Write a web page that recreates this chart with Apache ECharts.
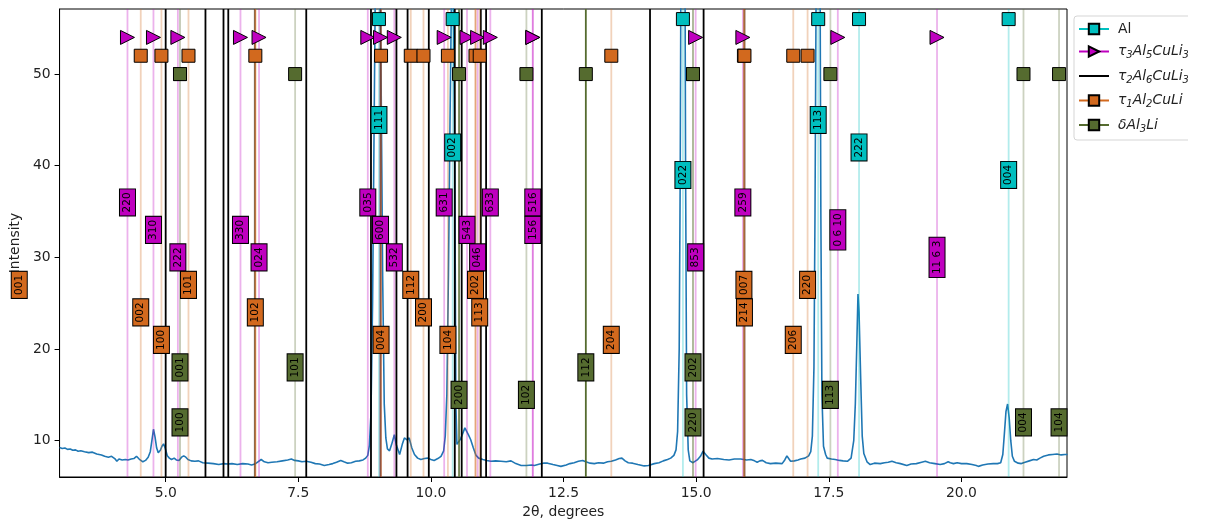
<!DOCTYPE html>
<html>
<head>
<meta charset="utf-8">
<script src="https://cdn.jsdelivr.net/npm/echarts@6/dist/echarts.min.js"></script>
<style>
  html, body { margin: 0; padding: 0; background: #fff; }
  #chart { width: 1207px; height: 525px; }
</style>
</head>
<body>
<div id="chart"></div>
<script>
// Measured pattern: [2θ (deg), intensity]
const pattern = [
  [3.00,9.25],[3.05,9.15],[3.10,9.2],[3.15,9.05],[3.20,9.1],[3.25,8.95],[3.30,9.0],[3.35,8.85],[3.40,8.9],[3.47,8.8],
  [3.55,8.7],[3.62,8.75],[3.70,8.55],[3.79,8.45],[3.85,8.3],[3.92,8.2],[3.98,8.3],[4.04,8.05],[4.08,7.75],[4.12,8.0],
  [4.18,7.9],[4.24,7.95],[4.29,7.9],[4.35,8.0],[4.40,8.05],[4.45,8.3],[4.50,8.0],[4.57,7.7],[4.62,7.85],[4.67,8.2],
  [4.71,8.8],[4.74,10.0],[4.77,11.25],[4.80,10.4],[4.83,9.2],[4.86,8.7],[4.90,8.95],[4.93,9.4],[4.96,9.65],[4.99,9.2],
  [5.03,8.35],[5.07,8.1],[5.11,7.95],[5.16,8.1],[5.20,7.9],[5.25,7.85],[5.30,8.2],[5.34,8.35],[5.38,8.2],[5.42,7.95],
  [5.48,7.8],[5.55,7.75],[5.62,7.8],[5.70,7.6],[5.80,7.55],[5.90,7.5],[6.00,7.4],[6.10,7.5],[6.17,7.45],[6.25,7.5],
  [6.35,7.4],[6.45,7.5],[6.55,7.45],[6.62,7.35],[6.68,7.45],[6.74,7.7],[6.80,7.95],[6.86,7.7],[6.93,7.6],[7.00,7.65],
  [7.10,7.7],[7.20,7.8],[7.30,7.9],[7.37,8.0],[7.43,7.85],[7.50,7.8],[7.57,7.7],[7.65,7.75],[7.74,7.65],[7.82,7.5],
  [7.90,7.45],[7.99,7.3],[8.08,7.4],[8.15,7.5],[8.22,7.65],[8.30,7.85],[8.36,7.7],[8.43,7.55],[8.50,7.6],[8.58,7.75],
  [8.65,7.8],[8.72,7.9],[8.77,8.1],[8.81,8.4],[8.84,9.5],[8.87,13],[8.90,25],[8.93,45],[8.96,65],[9.00,75],
  [9.03,70],[9.06,50],[9.09,28],[9.12,14],[9.15,10.3],[9.18,9.1],[9.22,8.9],[9.26,9.6],[9.31,10.65],[9.35,9.5],
  [9.41,8.5],[9.46,9.6],[9.50,10.3],[9.55,10.1],[9.59,10.3],[9.64,9.2],[9.69,8.5],[9.75,8.1],[9.81,7.95],[9.88,8.05],
  [9.94,8.1],[10.00,7.95],[10.06,7.85],[10.13,8.05],[10.19,8.3],[10.24,8.9],[10.27,10.5],[10.30,15],[10.33,28],[10.36,45],
  [10.39,60],[10.42,62],[10.45,40],[10.47,14],[10.49,9.6],[10.52,9.5],[10.56,10.2],[10.60,10.8],[10.64,11.4],[10.67,11.3],
  [10.71,10.6],[10.75,10.1],[10.80,9.2],[10.85,8.4],[10.90,8.1],[10.98,7.95],[11.05,7.85],[11.13,7.75],[11.22,7.8],[11.32,7.75],
  [11.42,7.7],[11.51,7.8],[11.60,7.5],[11.70,7.3],[11.80,7.3],[11.90,7.35],[11.95,7.3],[12.05,7.45],[12.12,7.55],[12.20,7.55],
  [12.30,7.4],[12.38,7.3],[12.45,7.2],[12.55,7.35],[12.62,7.5],[12.70,7.6],[12.78,7.75],[12.86,7.85],[12.92,7.7],[13.00,7.55],
  [13.08,7.5],[13.16,7.6],[13.25,7.55],[13.33,7.7],[13.40,7.75],[13.48,7.9],[13.55,8.05],[13.60,8.1],[13.66,7.8],[13.72,7.6],
  [13.80,7.55],[13.90,7.4],[14.02,7.25],[14.10,7.3],[14.21,7.5],[14.30,7.6],[14.38,7.8],[14.46,7.95],[14.52,8.1],[14.58,8.4],
  [14.62,9.0],[14.65,11],[14.68,20],[14.70,40],[14.72,75],[14.75,110],[14.78,80],[14.80,40],[14.82,15],[14.85,9.0],
  [14.88,7.8],[14.94,7.6],[15.02,7.9],[15.08,8.3],[15.13,8.85],[15.18,8.5],[15.24,8.1],[15.30,8.0],[15.40,8.05],[15.52,7.95],
  [15.62,7.9],[15.72,8.0],[15.84,8.0],[15.95,7.9],[16.03,7.95],[16.10,7.8],[16.15,7.65],[16.20,7.8],[16.25,7.85],[16.32,7.6],
  [16.40,7.5],[16.50,7.55],[16.62,7.5],[16.67,7.9],[16.71,8.35],[16.75,8.0],[16.78,7.75],[16.85,7.8],[16.92,7.9],[16.97,8.0],
  [17.05,8.1],[17.12,8.35],[17.16,8.8],[17.19,10.5],[17.22,18],[17.24,35],[17.27,70],[17.30,100],[17.33,70],[17.35,35],
  [17.37,15],[17.40,9.4],[17.44,8.5],[17.47,8.1],[17.55,8.0],[17.62,7.95],[17.70,7.85],[17.77,7.8],[17.85,7.75],[17.92,8.1],
  [17.97,10.0],[18.00,14],[18.03,21],[18.05,26],[18.07,24],[18.10,17],[18.13,10.5],[18.16,8.6],[18.22,7.7],[18.28,7.4],
  [18.36,7.55],[18.47,7.5],[18.55,7.6],[18.62,7.65],[18.69,7.75],[18.77,7.6],[18.85,7.5],[18.97,7.3],[19.05,7.45],[19.15,7.5],
  [19.25,7.65],[19.32,7.75],[19.40,7.6],[19.50,7.5],[19.60,7.4],[19.68,7.5],[19.75,7.7],[19.79,7.6],[19.85,7.5],[19.92,7.6],
  [20.00,7.5],[20.10,7.5],[20.20,7.4],[20.28,7.3],[20.32,7.2],[20.40,7.35],[20.50,7.45],[20.60,7.5],[20.68,7.5],[20.74,7.6],
  [20.78,8.5],[20.81,10.8],[20.84,13.2],[20.87,14.0],[20.90,12.5],[20.93,10],[20.96,8.3],[21.00,7.75],[21.07,7.55],[21.13,7.5],
  [21.20,7.65],[21.28,7.8],[21.36,7.95],[21.42,7.9],[21.48,8.1],[21.55,8.3],[21.64,8.45],[21.72,8.5],[21.80,8.55],[21.88,8.45],
  [21.95,8.5],[22.00,8.5]
];

// Reference reflections: 2θ position, Miller indices, label height, relative line strength
const alPos      = [9.02, 10.41, 14.75, 17.30, 18.07, 20.89];
const alHkl      = ['111', '002', '022', '113', '222', '004'];
const alLabelY   = [45, 42, 39, 45, 42, 39];
const alStrength = [0.3, 0.3, 0.3, 0.3, 0.3, 0.3];

const t3Pos      = [4.28, 4.77, 5.23, 6.41, 6.76, 8.81, 9.05, 9.31, 10.25, 10.68, 10.88, 11.12, 11.92, 11.92, 14.99, 15.88, 17.67, 19.54];
const t3Hkl      = ['220', '310', '222', '330', '024', '035', '600', '532', '631', '543', '046', '633', '516', '156', '853', '259', '0 6 10', '11 6 3'];
const t3LabelY   = [36, 33, 30, 33, 30, 36, 33, 30, 36, 33, 30, 36, 36, 33, 30, 36, 33, 30];
const t3Strength = [0.3, 0.3, 0.3, 0.3, 0.3, 0.3, 0.3, 0.3, 0.3, 0.3, 0.3, 0.3, 0.3, 0.3, 0.3, 0.3, 0.3, 0.3];

const t2Pos      = [5.00, 5.75, 6.09, 6.18, 6.68, 7.65, 8.87, 9.05, 9.35, 9.56, 9.96, 10.45, 10.58, 10.94, 11.04, 12.09, 14.13, 15.14, 15.91];
const t2Strength = [1, 1, 1, 1, 0.6, 1, 1, 0.6, 1, 1, 1, 1, 1, 1, 1, 1, 1, 1, 0.6];

const t1Pos      = [2.24, 4.53, 4.92, 5.43, 6.69, 9.06, 9.62, 9.86, 10.32, 10.84, 10.92, 13.40, 15.90, 15.91, 16.83, 17.10];
const t1Hkl      = ['001', '002', '100', '101', '102', '004', '112', '200', '104', '202', '113', '204', '007', '214', '206', '220'];
const t1LabelY   = [27, 24, 21, 27, 24, 21, 27, 24, 21, 27, 24, 21, 27, 24, 21, 27];
const t1Strength = [0.3, 0.3, 0.3, 0.3, 0.7, 0.5, 0.3, 0.3, 0.3, 0.6, 0.3, 0.3, 0.4, 0.4, 0.3, 0.3];

const dPos       = [5.27, 5.27, 7.44, 10.53, 11.80, 12.92, 14.94, 14.94, 17.53, 21.17, 21.84];
const dHkl       = ['001', '100', '101', '200', '102', '112', '202', '220', '113', '004', '104'];
const dLabelY    = [18, 12, 18, 15, 15, 18, 18, 12, 15, 12, 12];
const dStrength  = [0.2, 0.2, 0.3, 0.85, 0.3, 1.0, 0.3, 0.3, 0.3, 0.3, 0.3];

const xTicks = [5, 7.5, 10, 12.5, 15, 17.5, 20];
const yTicks = [10, 20, 30, 40, 50];

const X_MIN = 3, X_MAX = 21.99, Y_MIN = 6.04, Y_MAX = 57.1;
const FONT = 'DejaVu Sans';

const phases = [
  { name: 'Al',          color: '#00bfbf', symbol: 'rect', row: 56, pos: alPos, hkl: alHkl, labelY: alLabelY, strength: alStrength },
  { name: 'τ₃Al₅CuLi₃', color: '#bf00bf', symbol: 'path://M0,0L10,5L0,10Z', row: 54, pos: t3Pos, hkl: t3Hkl, labelY: t3LabelY, strength: t3Strength },
  { name: 'τ₂Al₆CuLi₃', color: '#000000', symbol: 'none', row: null, pos: t2Pos, hkl: null, labelY: null, strength: t2Strength },
  { name: 'τ₁Al₂CuLi',  color: '#d2691e', symbol: 'rect', row: 52, pos: t1Pos, hkl: t1Hkl, labelY: t1LabelY, strength: t1Strength },
  { name: 'δAl₃Li',      color: '#556b2f', symbol: 'rect', row: 50, pos: dPos, hkl: dHkl, labelY: dLabelY, strength: dStrength }
];

// vertical reflection lines drawn across the full plot height
function lineSeries(ph, width) {
  return {
    type: 'custom',
    coordinateSystem: 'cartesian2d',
    clip: true,
    silent: true,
    z: 3,
    encode: { x: 0, y: 1 },
    data: ph.pos.map((p, i) => [p, Y_MIN, ph.strength[i]]),
    renderItem: function (params, api) {
      const x = api.value(0);
      const a = api.coord([x, Y_MAX]);
      const b = api.coord([x, Y_MIN]);
      return {
        type: 'line',
        shape: { x1: a[0], y1: a[1], x2: b[0], y2: b[1] },
        style: { stroke: ph.color, lineWidth: width, opacity: api.value(2) }
      };
    }
  };
}

function markerSeries(ph) {
  const tri = ph.symbol.indexOf('path') === 0;
  return {
    type: 'scatter',
    silent: true,
    z: 5,
    clip: true,
    symbol: ph.symbol,
    symbolSize: tri ? [14, 14] : 13,
    itemStyle: { color: ph.color, borderColor: '#000', borderWidth: 1, opacity: 1 },
    data: ph.pos.map(p => [p, ph.row])
  };
}

// rotated hkl tags
function labelSeries(ph) {
  return {
    type: 'scatter',
    silent: true,
    z: 8,
    clip: false,
    symbolSize: 1,
    itemStyle: { color: 'rgba(0,0,0,0)', opacity: 1 },
    data: ph.pos.map((p, i) => [p, ph.labelY[i], ph.hkl[i]]),
    label: {
      show: true,
      opacity: 1,
      position: 'inside',
      rotate: 90,
      formatter: d => d.value[2],
      color: '#000',
      fontFamily: FONT,
      fontSize: 10.5,
      lineHeight: 11,
      backgroundColor: ph.color,
      borderColor: '#000',
      borderWidth: 1,
      padding: [2, 3, 2, 3]
    }
  };
}

// legend name -> rich text with italic formula and lowered subscripts
function legendText(name) {
  if (name === 'Al') return '{r|Al}';
  return name.replace(/([₀-₉]+)|([^₀-₉]+)/g, (m, sub, main) => {
    if (sub) {
      const digits = Array.from(sub).map(c => String.fromCharCode(c.charCodeAt(0) - 0x2080 + 48)).join('');
      return '{s|' + digits + '}';
    }
    return '{i|' + main + '}';
  });
}

const series = [];
series.push({
  type: 'line',
  silent: true,
  z: 2,
  data: pattern,
  showSymbol: false,
  symbol: 'none',
  clip: true,
  lineStyle: { color: '#1f77b4', width: 1.6 }
});
phases.forEach(ph => {
  const isTau2 = ph.symbol === 'none';
  series.push(lineSeries(ph, 1.8));
  if (!isTau2) {
    series.push(markerSeries(ph));
    series.push(labelSeries(ph));
  }
  // legend entry (line with marker)
  series.push({
    type: 'line',
    name: ph.name,
    data: [],
    symbol: isTau2 ? 'rect' : ph.symbol,
    symbolSize: 13,
    itemStyle: isTau2
      ? { color: 'rgba(0,0,0,0)', borderColor: 'rgba(0,0,0,0)', borderWidth: 0 }
      : { color: ph.color, borderColor: '#000', borderWidth: 1 },
    lineStyle: { color: ph.color, width: isTau2 ? 2 : 1.5 }
  });
});

const chart = echarts.init(document.getElementById('chart'), null, { renderer: 'canvas' });
chart.setOption({
  animation: false,
  backgroundColor: '#ffffff',
  grid: {
    left: 58, top: 9, right: 140, bottom: 48,
    show: true, borderColor: '#000', borderWidth: 1, backgroundColor: 'transparent'
  },
  xAxis: {
    type: 'value',
    min: X_MIN, max: X_MAX,
    name: '2θ, degrees',
    nameLocation: 'middle',
    nameGap: 28,
    nameTextStyle: { fontFamily: FONT, fontSize: 13.9, color: '#222' },
    axisLine: { show: true, onZero: false, lineStyle: { color: '#000', width: 1 } },
    axisTick: { show: true, length: 5, customValues: xTicks, lineStyle: { color: '#000' } },
    axisLabel: {
      customValues: xTicks, margin: 9,
      formatter: v => v.toFixed(1),
      fontFamily: FONT, fontSize: 13.9, color: '#222'
    },
    splitLine: { show: false }
  },
  yAxis: {
    type: 'value',
    min: Y_MIN, max: Y_MAX,
    name: 'Intensity',
    nameLocation: 'middle',
    nameGap: 28,
    nameTextStyle: { fontFamily: FONT, fontSize: 13.9, color: '#222' },
    axisLine: { show: true, onZero: false, lineStyle: { color: '#000', width: 1 } },
    axisTick: { show: true, length: 5, customValues: yTicks, lineStyle: { color: '#000' } },
    axisLabel: {
      customValues: yTicks, margin: 9,
      fontFamily: FONT, fontSize: 13.9, color: '#222'
    },
    splitLine: { show: false }
  },
  legend: {
    orient: 'vertical',
    left: 1074, top: 16,
    padding: [6, 20, 6, 4],
    itemGap: 8.5,
    itemWidth: 30,
    itemHeight: 13,
    backgroundColor: '#fff',
    borderColor: '#d5d5d5',
    borderWidth: 1,
    borderRadius: 3,
    selectedMode: false,
    data: phases.map(p => p.name),
    formatter: legendText,
    textStyle: {
      fontFamily: FONT, fontSize: 13.9, color: '#222', padding: [0, 0, 0, 4],
      rich: {
        r: { fontFamily: FONT, fontSize: 13.9, color: '#222', lineHeight: 18 },
        i: { fontFamily: FONT, fontSize: 13.9, fontStyle: 'italic', color: '#222', lineHeight: 18 },
        s: { fontFamily: FONT, fontSize: 10, fontStyle: 'italic', color: '#222', lineHeight: 9, verticalAlign: 'bottom' }
      }
    }
  },
  graphic: [{
    type: 'rect', z: 100, silent: true,
    shape: { x: 1188, y: 0, width: 19, height: 525 },
    style: { fill: '#ffffff' }
  }],
  series: series
});
</script>
</body>
</html>
